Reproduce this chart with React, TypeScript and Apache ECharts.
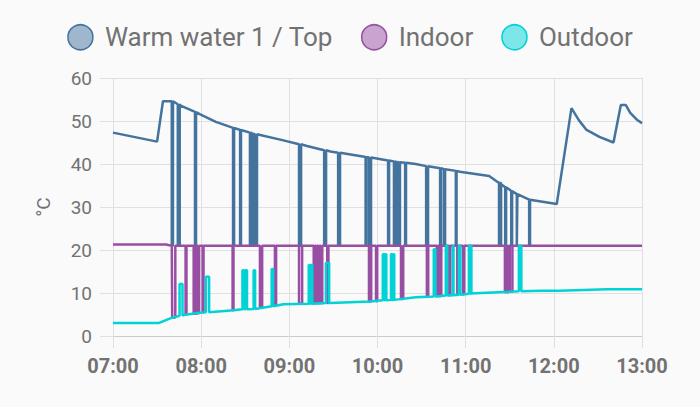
import React, { useEffect, useRef } from 'react';
import * as echarts from 'echarts';

const seriesNames = ['Warm water 1 / Top', 'Indoor', 'Outdoor'];
const seriesColors = ['#44739e', '#984ea3', '#00d2d5'];
const legendFills = ['rgba(68,115,158,0.5)', 'rgba(152,78,163,0.5)', 'rgba(0,210,213,0.5)'];
const xTickLabels = ['07:00', '08:00', '09:00', '10:00', '11:00', '12:00', '13:00'];

// Baseline readings: [minute of day, °C]
const warmBase: number[][] = [
  [420, 47.3], [450, 45.2], [454, 54.6], [461, 54.6], [466, 53.6], [479, 51.6], [490, 49.8],
  [502, 48.4], [518, 46.8], [536, 45.5], [552, 44.2], [568, 42.9], [591, 41.7], [608, 40.8],
  [626, 40.0], [656, 38.2], [676, 37.2], [683, 35.6], [690, 34.0], [695, 32.9], [704, 31.6],
  [722, 30.7], [732, 53.0], [737, 50.2], [742, 48.0], [751, 46.3], [760.6, 45.0], [765.6, 53.7],
  [769, 53.7], [772, 51.9], [776.5, 50.3], [780, 49.5],
];
const indoorBase: number[][] = [[420, 21.3], [456, 21.3], [460, 21.0], [780, 21.0]];
const outdoorBase: number[][] = [
  [420, 3.0], [451, 3.0], [459, 4.1], [468, 4.9], [479, 5.4], [502, 6.0], [536, 7.4], [568, 7.7],
  [595, 8.0], [626, 9.0], [643, 9.3], [663, 9.9], [690, 10.3], [711, 10.5], [724, 10.5],
  [756, 10.9], [780, 10.9],
];

// Short sensor glitches: [start minute, end minute, level, excursion value]
const warmGlitches: number[][] = [
  [460.0, 460.8, 54.6, 21], [464.1, 465.4, 53.9, 21], [475.8, 476.5, 52.1, 21],
  [501.7, 502.4, 48.4, 21], [506.5, 507.1, 47.9, 21], [513.2, 513.9, 47.3, 21],
  [514.8, 515.6, 47.1, 21], [516.4, 518.0, 46.9, 21], [546.6, 548.0, 44.6, 21],
  [563.7, 565.0, 43.2, 21], [573.2, 574.5, 42.6, 21], [591.9, 592.5, 41.6, 21],
  [594.3, 595.6, 41.5, 21], [607.2, 607.9, 40.8, 21], [611.2, 612.0, 40.6, 21],
  [612.8, 613.6, 40.5, 21], [614.4, 615.3, 40.4, 21], [618.8, 619.4, 40.3, 21],
  [633.1, 634.4, 39.5, 21], [642.6, 643.3, 39.0, 21], [645.3, 646.0, 38.8, 21],
  [653.3, 653.8, 38.4, 21], [682.7, 684.1, 35.6, 21], [686.9, 687.5, 34.6, 21],
  [691.0, 691.6, 33.7, 21], [694.8, 695.2, 33.0, 21], [703.2, 703.8, 31.7, 21],
];
const indoorGlitches: number[][] = [
  [460.3, 462.4, 21, 4.3], [469.4, 470.0, 21, 5.0], [474.9, 475.5, 21, 5.2],
  [476.2, 476.9, 21, 5.2], [477.6, 478.6, 21, 5.3], [481.0, 481.6, 21, 5.5],
  [501.4, 502.0, 21, 6.0], [520.0, 521.5, 21, 6.7], [530.2, 531.0, 21, 7.1],
  [546.6, 548.7, 21, 7.5], [556.6, 557.4, 21, 7.6], [558.2, 559.0, 21, 7.6],
  [559.8, 560.6, 21, 7.6], [561.4, 562.4, 21, 7.6], [565.8, 566.6, 21, 7.7],
  [594.2, 595.7, 21, 8.0], [599.0, 599.8, 21, 8.1], [616.0, 617.5, 21, 8.6],
  [633.6, 634.5, 21, 9.1], [640.4, 641.1, 21, 9.3], [641.8, 643.4, 21, 9.3],
  [648.6, 649.5, 21, 9.5], [654.3, 654.8, 21, 9.6], [658.2, 659.0, 21, 9.7],
  [686.7, 687.5, 21, 10.2], [688.3, 689.2, 21, 10.2], [690.0, 691.8, 21, 10.3],
];
const outdoorGlitches: number[][] = [
  [465.3, 467.3, 4.7, 12.1], [483.2, 485.4, 5.5, 13.8], [508.1, 509.2, 6.2, 15.3],
  [510.0, 511.2, 6.2, 15.3], [515.7, 516.7, 6.3, 15.3], [528.0, 529.0, 6.9, 15.6],
  [553.2, 554.1, 7.5, 16.5], [554.8, 555.6, 7.5, 16.5], [564.9, 567.1, 7.7, 17.0],
  [603.6, 604.6, 8.3, 19.0], [605.2, 606.0, 8.3, 19.0], [609.2, 610.0, 8.4, 19.0],
  [610.6, 611.4, 8.4, 19.0], [638.3, 639.4, 9.2, 20.2], [646.5, 647.5, 9.4, 21.0],
  [651.2, 651.7, 9.5, 21.0], [655.4, 656.4, 9.6, 21.0], [662.2, 663.9, 9.8, 21.0],
  [696.2, 697.9, 10.4, 21.0],
];

function buildSeries(base: number[][], glitches: number[][]): number[][] {
  const groups: { t: number; pts: number[][] }[] = base.map((p) => ({ t: p[0], pts: [p] }));
  glitches.forEach(([t1, t2, lvl, ex]) => {
    groups.push({ t: t1, pts: [[t1, lvl], [t1, ex], [t2, ex], [t2, lvl]] });
  });
  groups.sort((a, b) => a.t - b.t);
  return groups.flatMap((g) => g.pts);
}

const FONT = 'Roboto, sans-serif';
const TEXT = '#727272';
const GRIDC = '#e0e0e0';

export default function App() {
  const ref = useRef<HTMLDivElement>(null);
  useEffect(() => {
    document.body.style.margin = '0';
    document.body.style.background = '#fafafa';
    if (!ref.current) return;
    const chart = echarts.init(ref.current, undefined, { renderer: 'svg' });
    const datasets = [
      buildSeries(warmBase, warmGlitches),
      buildSeries(indoorBase, indoorGlitches),
      buildSeries(outdoorBase, outdoorGlitches),
    ];
    chart.setOption({
      animation: false,
      backgroundColor: '#fafafa',
      textStyle: { fontFamily: FONT },
      legend: {
        left: 'center',
        top: 19,
        icon: 'circle',
        itemWidth: 25,
        itemHeight: 25,
        itemGap: 28,
        textStyle: { fontSize: 26, color: TEXT, fontFamily: FONT, padding: [0, 0, 0, 7] },
        data: seriesNames.map((n, i) => ({
          name: n,
          itemStyle: { color: legendFills[i], borderColor: seriesColors[i], borderWidth: 1.5 },
        })),
      },
      grid: { left: 113, right: 58, top: 78, bottom: 71 },
      xAxis: {
        type: 'value',
        min: 420,
        max: 780,
        interval: 60,
        axisLine: { show: true, lineStyle: { color: '#cccccc', width: 1 } },
        axisTick: { show: true, length: 12, lineStyle: { color: GRIDC } },
        splitLine: { show: true, lineStyle: { color: GRIDC, width: 1 } },
        axisLabel: {
          color: TEXT,
          fontSize: 20,
          fontWeight: 'bold',
          fontFamily: FONT,
          margin: 20,
          formatter: (v: number) => xTickLabels[Math.round((v - 420) / 60)] ?? '',
        },
      },
      yAxis: {
        type: 'value',
        min: 0,
        max: 60,
        interval: 10,
        name: '°C',
        nameLocation: 'middle',
        nameRotate: 90,
        nameGap: 60,
        nameTextStyle: { fontSize: 19, color: TEXT, fontFamily: FONT },
        axisLine: { show: false },
        axisTick: { show: true, length: 13, lineStyle: { color: GRIDC } },
        splitLine: { show: true, lineStyle: { color: GRIDC, width: 1 } },
        axisLabel: { color: TEXT, fontSize: 19, margin: 21, fontFamily: FONT },
      },
      series: datasets.map((d, i) => ({
        name: seriesNames[i],
        type: 'line',
        data: d,
        showSymbol: false,
        symbol: 'none',
        color: seriesColors[i],
        lineStyle: { width: 2.5, color: seriesColors[i] },
        emphasis: { disabled: true },
      })),
    });
    return () => chart.dispose();
  }, []);
  return <div ref={ref} style={{ width: 700, height: 407, background: '#fafafa' }} />;
}
